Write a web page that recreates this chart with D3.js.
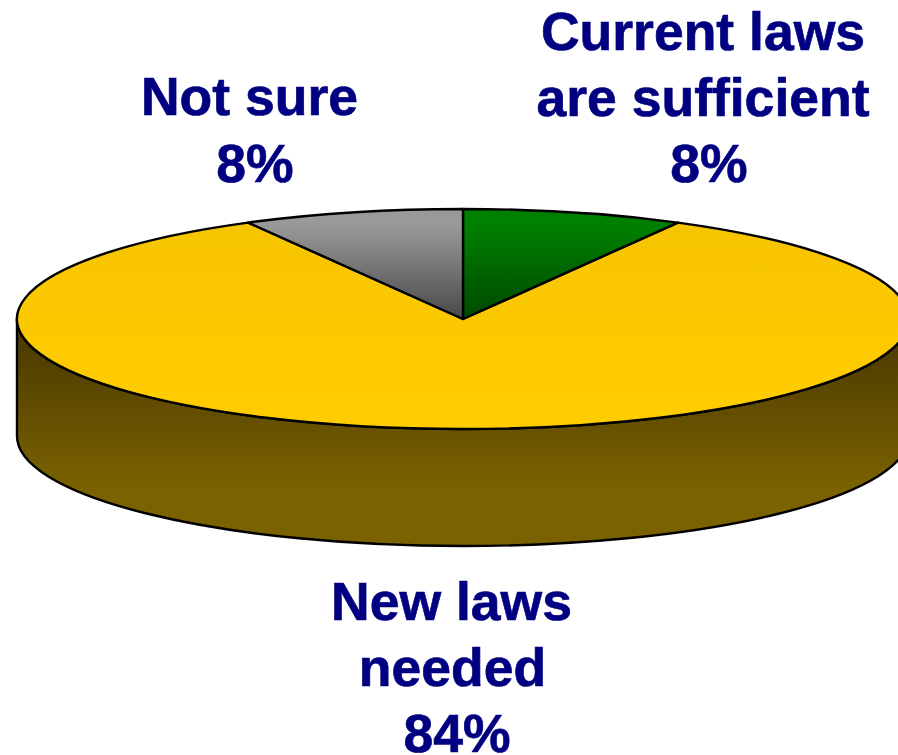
<!DOCTYPE html>
<html><head><meta charset="utf-8">
<script src="https://cdn.jsdelivr.net/npm/d3@7"></script>
<style>html,body{margin:0;padding:0;background:#fff;overflow:hidden}svg{display:block}</style>
</head><body><svg id="c" width="898" height="755"></svg>
<script>
const categories = ["Current laws are sufficient", "New laws needed", "Not sure"];
const values = [8, 84, 8];
const labelLines = [["Current laws", "are sufficient", "8%"], ["New laws", "needed", "84%"], ["Not sure", "8%"]];
const gradients = [["#008000", "#004a00"], ["#f6c400", "#ffcc00"], ["#999999", "#4a4a4a"]];

const cx = 463, cy = 319, rx = 446, ry = 110, depth = 117;
const sy = ry / rx;
const svg = d3.select("#c");
const defs = svg.append("defs");
const grad = (id, a, b, y1, y2) => {
  const g = defs.append("linearGradient").attr("id", id).attr("gradientUnits", "userSpaceOnUse")
    .attr("x1", 0).attr("x2", 0).attr("y1", y1).attr("y2", y2);
  g.append("stop").attr("offset", 0).attr("stop-color", a);
  g.append("stop").attr("offset", 1).attr("stop-color", b);
};
grad("wall", "#493800", "#7b6200", cy + 10, cy + ry + 60);
// slice gradients live in the slice's scaled coordinates
const bands = [[225, 318], [209, 400], [225, 318]];
gradients.forEach((g, i) => grad("gs" + i, g[0], g[1], (bands[i][0] - cy) / sy, (bands[i][1] - cy) / sy));

const pieData = d3.pie().sort(null).value(d => d)(values);
const arc = d3.arc().innerRadius(0).outerRadius(rx);
const px = a => cx + rx * Math.sin(a), py = a => cy - ry * Math.cos(a);

// front wall, from the rim of the visible lower half of the pie
const aL = Math.PI * 1.5, aR = Math.PI / 2;
svg.append("path")
  .attr("d", `M${px(aL)},${py(aL)} A${rx},${ry} 0 0 0 ${px(aR)},${py(aR)} L${px(aR)},${py(aR) + depth} A${rx},${ry} 0 0 1 ${px(aL)},${py(aL) + depth} Z`)
  .attr("fill", "url(#wall)").attr("stroke", "#000").attr("stroke-width", 2.4).attr("stroke-linejoin", "round");

// top slices: large slice first so the small ones sit over it
const slices = svg.append("g");
pieData.map((d, i) => ({ d, i })).sort((a, b) => b.d.value - a.d.value).forEach(({ d, i }) => {
  slices.append("path")
    .attr("transform", `translate(${cx},${cy}) scale(1,${sy})`)
    .attr("d", arc(d))
    .attr("vector-effect", "non-scaling-stroke")
    .attr("fill", `url(#gs${i})`)
    .attr("stroke", "#000").attr("stroke-width", 2.4).attr("stroke-linejoin", "round")
    .attr("data-cat", categories[i]);
});

// labels: [x, baseline] of each text line
const labelPos = [
  [[703, 49.5], [703, 115.5], [709, 182]],
  [[451.5, 620], [452.5, 686], [457, 752]],
  [[249.5, 115], [255, 182]]
];
const labels = svg.append("g").attr("font-family", "'Liberation Sans', Arial, sans-serif")
  .attr("font-weight", "bold").attr("font-size", 53.5).attr("fill", "#000080")
  .attr("stroke", "#000080").attr("stroke-width", 0.7).attr("text-anchor", "middle");
labelLines.forEach((lines, i) => {
  lines.forEach((t, j) => {
    labels.append("text").attr("x", labelPos[i][j][0]).attr("y", labelPos[i][j][1]).text(t);
  });
});
</script></body></html>
